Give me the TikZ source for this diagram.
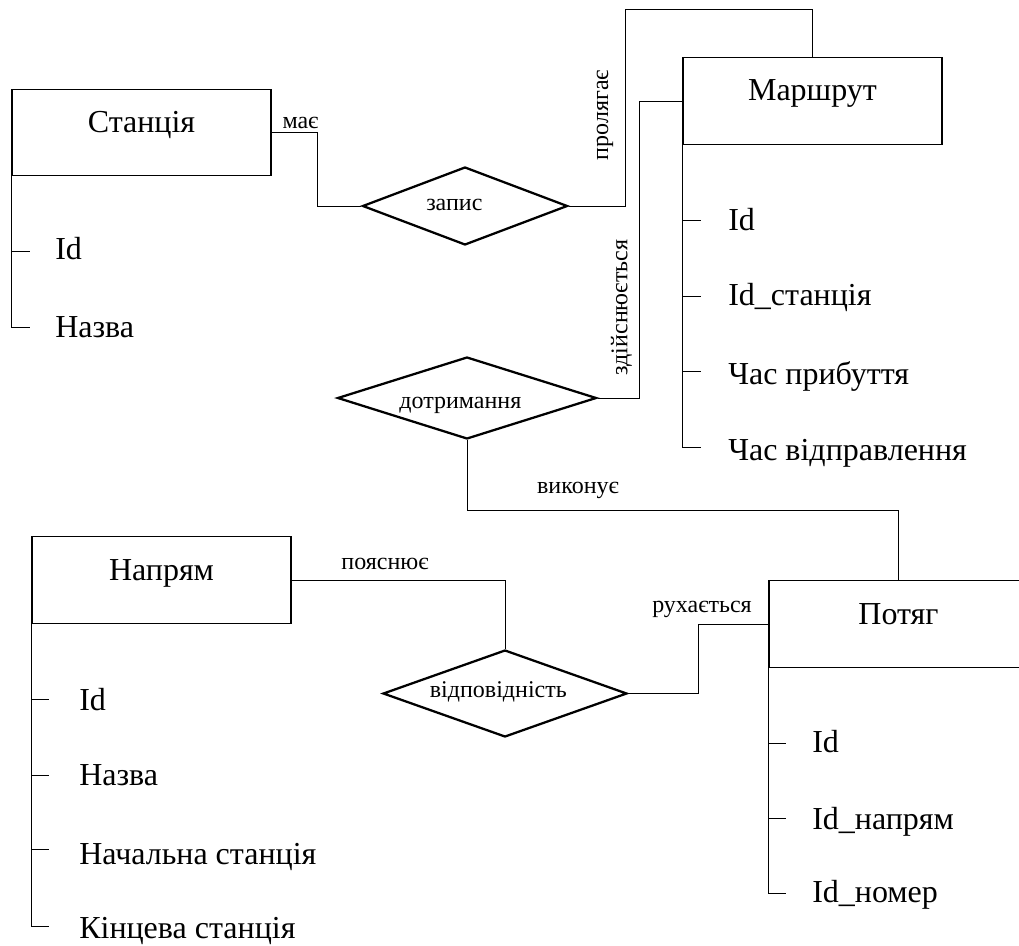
\documentclass[tikz,border=0pt]{standalone}
\usepackage{fontspec}
\setmainfont{Liberation Serif}
\usetikzlibrary{calc,positioning,shapes.geometric}
\tikzset{
  entity/.style={
    rectangle,
    draw=black, line width=0.9pt,
    minimum width=194.25pt,
    minimum height=64.9pt,
    inner sep=0pt,
    text height=12pt, text depth=12pt,
    font=\fontsize{24}{28}\selectfont},
  relation/.style={
    diamond,
    draw=black, line width=1.7pt,
    inner sep=0pt,
    text height=8pt, text depth=2pt,
    font=\fontsize{18}{21}\selectfont},
  attrib/.style={
    anchor=base west, inner sep=0pt,
    font=\fontsize{24}{28}\selectfont},
  role/.style={inner sep=0pt, font=\fontsize{18}{21}\selectfont},
  link/.style={draw, line width=0.7pt},
}
\begin{document}
\begin{tikzpicture}
  [x=0.75pt, y=-0.75pt]
  \useasboundingbox (0,0) rectangle (1019,945);
  % entities
  \node[entity] (stancija) at (141.5,132.5) {Станція};
  \node[entity] (marshrut) at (812.5,101) {Маршрут};
  \node[entity] (napriam) at (161.5,580) {Напрям};
  \node[entity] (potiah) at (898.5,624) {Потяг};
  % relations
  \node[relation, aspect=2.63, minimum width=153.75pt, minimum height=58.5pt] (zapys) at (465,206) {\kern-16pt запис};
  \node[relation, aspect=3.16, minimum width=194.25pt, minimum height=61.5pt,
        text height=16pt, text depth=1pt] (dotrymannia) at (467,398) {\kern-10pt дотримання};
  \node[relation, aspect=2.8, minimum width=183pt, minimum height=65.25pt] (vidpovidnist) at (505,693.5) {\kern-10pt відповідність};
  % connectors
  \draw[link] (stancija.east) -- ++(46,0) |- (zapys.west);
  \draw[link] (zapys.east) -- ++(57,0) |- ($(marshrut.north)+(0,-48)$) -- (marshrut.north);
  \draw[link] (dotrymannia.east) -- ++(42,0) |- (marshrut.west);
  \draw[link] (dotrymannia.south) -- ++(0,70) -| (potiah.north);
  \draw[link] (napriam.east) -| (vidpovidnist.north);
  \draw[link] (vidpovidnist.east) -- ++(70,0) |- (potiah.west);
  % connector labels
  \node[role] (l-mae) at (300.5,123) {має};
  \node[role, rotate=90] (l-proliahaie) at (605,115) {пролягає};
  \node[role, rotate=90] (l-zdijsniuietsia) at (621.5,307.5) {здійснюється};
  \node[role] (l-vykonuie) at (578,490.5) {виконує};
  \node[role] (l-poiasniuie) at (385,563.5) {пояснює};
  \node[role] (l-rukhaietsia) at (702,609) {рухається};
  % attributes of Станція
  \node[attrib] (st-id) at (55,259) {Id};
  \node[attrib] (st-nazva) at (55,337) {Назва};
  \draw[link] (stancija.south west) |- ++(19,151);
  \draw[link] (stancija.south west |- 0,251) -- ++(19,0);
  % attributes of Маршрут
  \node[attrib] (ma-id) at (728,230) {Id};
  \node[attrib] (ma-stancija) at (728,305) {Id\_станція};
  \node[attrib] (ma-prybuttia) at (728,384) {Час прибуття};
  \node[attrib] (ma-vidpravl) at (728,460) {Час відправлення};
  \draw[link] (marshrut.south west) |- ++(19,303);
  \draw[link] (marshrut.south west |- 0,220) -- ++(19,0);
  \draw[link] (marshrut.south west |- 0,296) -- ++(19,0);
  \draw[link] (marshrut.south west |- 0,371) -- ++(19,0);
  % attributes of Напрям
  \node[attrib] (na-id) at (79,710) {Id};
  \node[attrib] (na-nazva) at (79,785) {Назва};
  \node[attrib] (na-pochat) at (79,864) {Начальна станція};
  \node[attrib] (na-kinc) at (79,938) {Кінцева станція};
  \draw[link] (napriam.south west) |- ++(18,303);
  \draw[link] (napriam.south west |- 0,699) -- ++(18,0);
  \draw[link] (napriam.south west |- 0,775) -- ++(18,0);
  \draw[link] (napriam.south west |- 0,849) -- ++(18,0);
  % attributes of Потяг
  \node[attrib] (po-id) at (812,752) {Id};
  \node[attrib] (po-napriam) at (812,829) {Id\_напрям};
  \node[attrib] (po-nomer) at (812,902) {Id\_номер};
  \draw[link] (potiah.south west) |- ++(18,226);
  \draw[link] (potiah.south west |- 0,743) -- ++(18,0);
  \draw[link] (potiah.south west |- 0,818) -- ++(18,0);
\end{tikzpicture}
\end{document}
